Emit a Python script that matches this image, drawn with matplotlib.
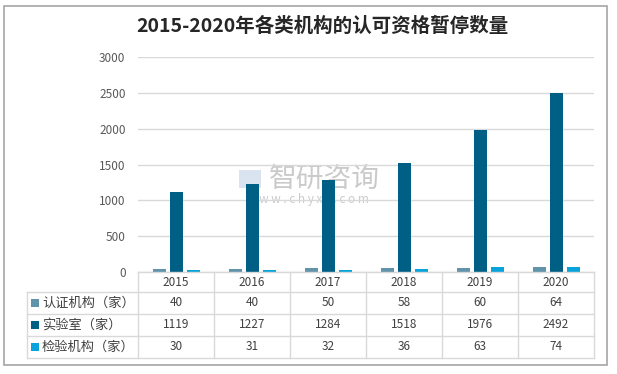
import matplotlib
matplotlib.use("Agg")
import matplotlib.pyplot as plt
from matplotlib.patches import Rectangle
from matplotlib.lines import Line2D
import numpy as np

plt.rcParams['font.family'] = ['Noto Sans CJK SC', 'DejaVu Sans']

title = "2015-2020年各类机构的认可资格暂停数量"
years = ["2015", "2016", "2017", "2018", "2019", "2020"]
series_names = ["认证机构（家）", "实验室（家）", "检验机构（家）"]
cert = [40, 40, 50, 58, 60, 64]
lab = [1119, 1227, 1284, 1518, 1976, 2492]
insp = [30, 31, 32, 36, 63, 74]
series = [cert, lab, insp]
colors = ["#6193AA", "#005F85", "#07A3DA"]
yticks = [0, 500, 1000, 1500, 2000, 2500, 3000]

W, H = 617, 374
fig = plt.figure(figsize=(W / 100, H / 100), dpi=100)

def fx(px):
    return px / W

def fy(py):
    return 1 - py / H

# outer border
fig.add_artist(Rectangle((fx(4), fy(365)), fx(607) - fx(4), fy(6) - fy(365),
                         transform=fig.transFigure, fill=False, ec="#A6A6A6", lw=1.2))

# title
fig.text(fx(322), fy(26), title, ha="center", va="center", fontsize=14,
         fontweight="bold", color="#262626")

# bar axes
L, R, T, B = 138, 594, 57, 272
ax = fig.add_axes([fx(L), fy(B), fx(R) - fx(L), fy(T) - fy(B)])
n = len(years)
x = np.arange(n)
bw = 13 / 76
off = 17 / 76
for i, (vals, c) in enumerate(zip(series, colors)):
    ax.bar(x + (i - 1) * off, vals, width=bw, color=c, zorder=3)
ax.set_xlim(-0.5, n - 0.5)
ax.set_ylim(0, 3000)
ax.set_yticks(yticks)
ax.set_yticklabels([str(t) for t in yticks], fontsize=8.5, color="#595959")
ax.set_xticks([])
ax.grid(axis="y", color="#D9D9D9", lw=1, zorder=0)
for s in ax.spines.values():
    s.set_visible(False)
ax.tick_params(axis="y", length=0, pad=9)

# watermark (behind bars)
ax.text(fx(269), fy(179), "智研咨询", fontsize=20, color="#A0A0A0", alpha=0.55,
        ha="left", va="center", zorder=1, transform=fig.transFigure)
ax.text(fx(308), fy(199), "w w w . c h y x x . c o m", fontsize=8.5, color="#A0A0A0",
        alpha=0.55, ha="center", va="center", zorder=1, transform=fig.transFigure)
ax.add_patch(Rectangle((fx(239), fy(188)), fx(22) - fx(0), fy(0) - fy(18),
                       transform=fig.transFigure, fc="#B7C9E2", ec="none", alpha=0.5, zorder=1))

# table
TL = 27
col_edges = [L + i * 76 for i in range(n + 1)]
row_edges = [272, 292, 314, 336, 358]
lc = "#D9D9D9"

def hline(y, x0, x1):
    fig.add_artist(Line2D([fx(x0), fx(x1)], [fy(y), fy(y)], transform=fig.transFigure,
                          color=lc, lw=1))

def vline(xp, y0, y1):
    fig.add_artist(Line2D([fx(xp), fx(xp)], [fy(y0), fy(y1)], transform=fig.transFigure,
                          color=lc, lw=1))

hline(row_edges[0], L, R)
for y in row_edges[1:]:
    hline(y, TL, R)
for xp in col_edges:
    vline(xp, row_edges[0], row_edges[-1])
vline(TL, row_edges[1], row_edges[-1])

tc = "#404040"
for j, yr in enumerate(years):
    cx = (col_edges[j] + col_edges[j + 1]) / 2
    fig.text(fx(cx), fy((row_edges[0] + row_edges[1]) / 2), yr, ha="center", va="center",
             fontsize=8.5, color=tc)
for i, (name, vals, c) in enumerate(zip(series_names, series, colors)):
    cy = (row_edges[i + 1] + row_edges[i + 2]) / 2
    fig.add_artist(Rectangle((fx(31), fy(cy + 4)), fx(8), fy(0) - fy(8),
                             transform=fig.transFigure, fc=c, ec="none"))
    fig.text(fx(42), fy(cy), name, ha="left", va="center", fontsize=9.5, color=tc)
    for j, v in enumerate(vals):
        cx = (col_edges[j] + col_edges[j + 1]) / 2
        fig.text(fx(cx), fy(cy), str(v), ha="center", va="center", fontsize=8.5, color=tc)

fig.savefig("out.png", dpi=100)
